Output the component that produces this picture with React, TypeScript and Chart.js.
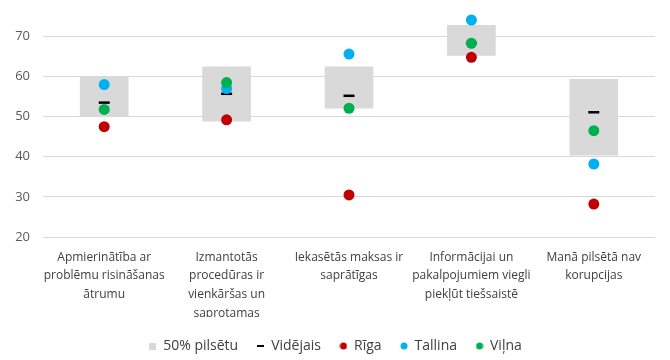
import React, { useEffect, useRef } from "react";
import { Chart, registerables } from "chart.js";

Chart.register(...registerables);

const categories: string[][] = [
  ["Apmierinātība ar", "problēmu risināšanas", "ātrumu"],
  ["Izmantotās", "procedūras ir", "vienkāršas un", "saprotamas"],
  ["Iekasētās maksas ir", "saprātīgas"],
  ["Informācijai un", "pakalpojumiem viegli", "piekļūt tiešsaistē"],
  ["Manā pilsētā nav", "korupcijas"],
];

const boxLow = [50.2, 48.9, 52.1, 65.3, 40.4];
const boxHigh = [60.0, 62.4, 62.4, 72.8, 59.3];
const meanValues = [53.5, 55.7, 55.2, 68.3, 51.1];
const rigaValues = [47.5, 49.2, 30.5, 64.8, 28.2];
const tallinaValues = [58.0, 57.0, 65.6, 74.1, 38.2];
const vilnaValues = [51.8, 58.5, 52.1, 68.3, 46.5];

const yTicks = [20, 30, 40, 50, 60, 70];

function makeMarker(kind: "square" | "dash" | "circle", color: string): HTMLCanvasElement {
  const c = document.createElement("canvas");
  if (kind === "square") {
    c.width = 7;
    c.height = 7;
    const ctx = c.getContext("2d")!;
    ctx.fillStyle = color;
    ctx.fillRect(0, 0, 7, 7);
  } else if (kind === "dash") {
    c.width = 7;
    c.height = 2;
    const ctx = c.getContext("2d")!;
    ctx.fillStyle = color;
    ctx.fillRect(0, 0, 7, 2);
  } else {
    c.width = 8;
    c.height = 8;
    const ctx = c.getContext("2d")!;
    ctx.fillStyle = color;
    ctx.beginPath();
    ctx.arc(4, 4, 3.5, 0, Math.PI * 2);
    ctx.fill();
  }
  return c;
}

const legendShift = {
  id: "legendShift",
  afterLayout(chart: any) {
    const l = chart.legend;
    if (!l) return;
    const dy = 3;
    const dx = 8;
    l.top += dy;
    l.bottom += dy;
    l.left += dx;
    l.right += dx;
    if (l.legendHitBoxes)
      l.legendHitBoxes.forEach((h: any) => {
        h.top += dy;
        h.left += dx;
      });
  },
};

export default function App() {
  const ref = useRef<HTMLCanvasElement | null>(null);

  useEffect(() => {
    document.body.style.margin = "0";
    const canvas = ref.current;
    if (!canvas) return;
    const font = "'Open Sans', 'Noto Sans', sans-serif";
    const markers = [
      makeMarker("square", "#D9D9D9"),
      makeMarker("dash", "#000000"),
      makeMarker("circle", "#C00000"),
      makeMarker("circle", "#00B0F0"),
      makeMarker("circle", "#00B050"),
    ];
    const dot = (label: string, data: number[], color: string, order: number) => ({
      type: "line" as const,
      label,
      data,
      showLine: false,
      clip: false,
      pointStyle: "circle",
      pointRadius: 5.5,
      pointHoverRadius: 5.5,
      pointBackgroundColor: color,
      pointBorderColor: color,
      pointBorderWidth: 0,
      backgroundColor: color,
      borderColor: color,
      borderWidth: 0,
      order,
    });
    const chart = new Chart(canvas, {
      type: "bar",
      plugins: [legendShift],
      data: {
        labels: categories,
        datasets: [
          {
            type: "bar",
            label: "50% pilsētu",
            data: boxLow.map((lo, i) => [lo, boxHigh[i]]),
            backgroundColor: "#D9D9D9",
            borderWidth: 0,
            barThickness: 48,
            clip: false,
            order: 5,
          } as any,
          {
            type: "line",
            label: "Vidējais",
            data: meanValues,
            showLine: false,
            clip: false,
            pointStyle: "line",
            pointRadius: 5.5,
            pointHoverRadius: 5.5,
            pointBorderColor: "#000000",
            pointBorderWidth: 2.5,
            borderColor: "#000000",
            backgroundColor: "#000000",
            borderWidth: 2.5,
            order: 4,
          } as any,
          dot("Rīga", rigaValues, "#C00000", 3) as any,
          dot("Tallina", tallinaValues, "#00B0F0", 2) as any,
          dot("Viļna", vilnaValues, "#00B050", 1) as any,
        ],
      },
      options: {
        responsive: false,
        animation: false,
        layout: { padding: { top: 0, right: 15, left: 0, bottom: 0 } },
        plugins: {
          tooltip: { enabled: false },
          legend: {
            position: "bottom",
            labels: {
              usePointStyle: true,
              boxWidth: 7,
              boxHeight: 7,
              padding: 19,
              color: "#404040",
              font: { family: font, size: 14 },
              sort: (a: any, b: any) => a.datasetIndex - b.datasetIndex,
              generateLabels: (ch: any) => {
                const items = (Chart.defaults.plugins.legend.labels as any).generateLabels(ch);
                return items.map((it: any) => ({ ...it, pointStyle: markers[it.datasetIndex] }));
              },
            },
          },
        },
        scales: {
          x: {
            grid: { display: false },
            border: { display: false },
            afterFit: (s: any) => {
              s.height = 80;
            },
            ticks: {
              color: "#404040",
              font: { family: font, size: 12, lineHeight: 1.55 },
              padding: 3,
              maxRotation: 0,
              autoSkip: false,
            },
          },
          y: {
            min: 20,
            max: 73.9,
            grid: { color: "#D9D9D9", lineWidth: 1, drawTicks: false },
            border: { display: false },
            afterFit: (s: any) => {
              s.width = 43;
            },
            afterBuildTicks: (s: any) => {
              s.ticks = yTicks.map((v) => ({ value: v }));
            },
            ticks: {
              color: "#595959",
              font: { family: font, size: 13 },
              padding: 13,
            },
          },
        },
      },
    });
    return () => chart.destroy();
  }, []);

  return (
    <div style={{ position: "absolute", left: 0, top: 0, width: 670, height: 360 }}>
      <canvas ref={ref} width={670} height={360} />
    </div>
  );
}
